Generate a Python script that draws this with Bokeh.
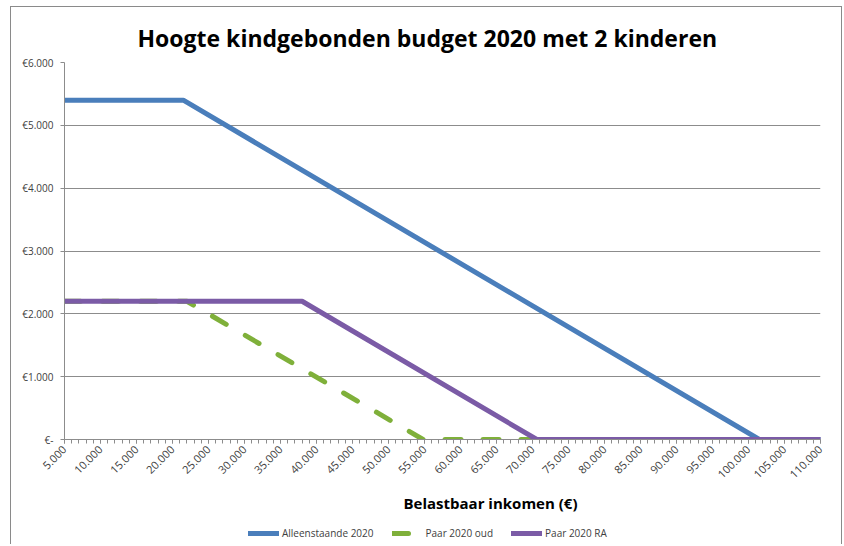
from bokeh.plotting import figure
from bokeh.layouts import column
from bokeh.models import (Range1d, FixedTicker, Legend, LegendItem, Title)
from bokeh.embed import file_html
from bokeh.resources import INLINE

# ---- data ----
income_alleenstaande = [5000, 21500, 101500, 110000]
budget_alleenstaande = [5400, 5400, 0, 0]
income_paar_oud = [5000, 22000, 54800, 110000]
budget_paar_oud = [2200, 2200, 0, 0]
income_paar_ra = [5000, 38000, 70600, 110000]
budget_paar_ra = [2200, 2200, 0, 0]

series_names = ["Alleenstaande 2020", "Paar 2020 oud", "Paar 2020 RA"]

x_tick_values = list(range(5000, 110001, 5000))
x_tick_labels = ["5.000", "10.000", "15.000", "20.000", "25.000", "30.000",
                 "35.000", "40.000", "45.000", "50.000", "55.000", "60.000",
                 "65.000", "70.000", "75.000", "80.000", "85.000", "90.000",
                 "95.000", "100.000", "105.000", "110.000"]
x_minor_values = list(range(5000, 110001, 1000))
y_tick_values = [0, 1000, 2000, 3000, 4000, 5000, 6000]
y_tick_labels = ["€-", "€1.000", "€2.000", "€3.000", "€4.000", "€5.000", "€6.000"]

title_text = "Hoogte kindgebonden budget 2020 met 2 kinderen"
x_title_text = "Belastbaar inkomen (€)"

FONT = "Open Sans"
GRID = "#8c8c8c"
TXT = "#404040"
COLORS = ["#4a7ebb", "#7fb03a", "#7b5ba6"]
DASHES = ["solid", "16 22", "solid"]

W = 830
p = figure(width=W, height=515, output_backend="svg", toolbar_location=None,
           x_range=Range1d(5000, 110000), y_range=Range1d(0, 6000),
           min_border_left=53, min_border_right=21, min_border_top=55,
           min_border_bottom=83)

p.title.text = title_text
p.title.text_font = FONT
p.title.text_font_style = "bold"
p.title.text_font_size = "23px"
p.title.text_color = "#000000"
p.title.align = "left"
p.title.offset = 73
p.title.standoff = 18

p.outline_line_color = None
p.xgrid.grid_line_color = None
p.ygrid.grid_line_color = GRID
p.ygrid.grid_line_width = 1

# axes
xa = p.xaxis[0]
xa.ticker = FixedTicker(ticks=x_tick_values, minor_ticks=x_minor_values)
xa.major_label_overrides = {v: l for v, l in zip(x_tick_values, x_tick_labels)}
xa.major_label_orientation = 0.785398
xa.major_label_text_font = FONT
xa.major_label_text_font_size = "11px"
xa.major_label_text_color = TXT
xa.major_label_standoff = 4
xa.axis_line_color = GRID
xa.major_tick_line_color = GRID
xa.minor_tick_line_color = GRID
xa.major_tick_in = 0
xa.major_tick_out = 4
xa.minor_tick_in = 0
xa.minor_tick_out = 4

ya = p.yaxis[0]
ya.ticker = FixedTicker(ticks=y_tick_values, minor_ticks=[])
ya.major_label_overrides = {v: l for v, l in zip(y_tick_values, y_tick_labels)}
ya.major_label_text_font = FONT
ya.major_label_text_font_size = "10px"
ya.major_label_text_color = TXT
ya.major_label_standoff = 7
ya.axis_line_color = GRID
ya.major_tick_line_color = GRID
ya.major_tick_in = 0
ya.major_tick_out = 4
ya.minor_tick_line_color = None

# lines
series = [(income_alleenstaande, budget_alleenstaande),
          (income_paar_oud, budget_paar_oud),
          (income_paar_ra, budget_paar_ra)]
for (xs, ys), c, d in zip(series, COLORS, DASHES):
    p.line(xs, ys, line_color=c, line_width=5, line_join="round",
           line_cap="round", line_dash=d)

xt = Title(text=x_title_text, align="left", offset=339, text_font=FONT,
           text_font_style="bold", text_font_size="15px", text_color="#000000",
           standoff=12)
p.add_layout(xt, "below")

# legend strip below the chart (its lines lie outside its tiny range, so
# only the legend glyphs are visible)
leg = figure(width=W, height=22, output_backend="svg", toolbar_location=None,
             x_range=Range1d(0, 1), y_range=Range1d(0, 1),
             x_axis_type=None, y_axis_type=None,
             min_border_left=53, min_border_right=21, min_border_top=0,
             min_border_bottom=0)
leg.outline_line_color = None
items = []
for (xs, ys), name, c, d in zip(series, series_names, COLORS, DASHES):
    r = leg.line(xs, ys, line_color=c, line_width=5, line_cap="round", line_dash=d)
    items.append(LegendItem(label=name, renderers=[r]))
legend = Legend(items=items, orientation="horizontal", location=(184, 4),
                label_text_font=FONT, label_text_font_size="10px",
                label_text_color=TXT, glyph_width=31, glyph_height=10,
                label_standoff=3, spacing=18, padding=0, margin=0,
                border_line_color=None, background_fill_alpha=0)
leg.add_layout(legend, "center")

layout = column(p, leg, spacing=0)
layout.styles = {"border-left": "1px solid #8a8a8a", "border-top": "1px solid #8a8a8a",
                 "border-right": "1px solid #8a8a8a", "margin-left": "10px",
                 "margin-top": "6px"}

open("out.html", "w").write(file_html(layout, INLINE))
